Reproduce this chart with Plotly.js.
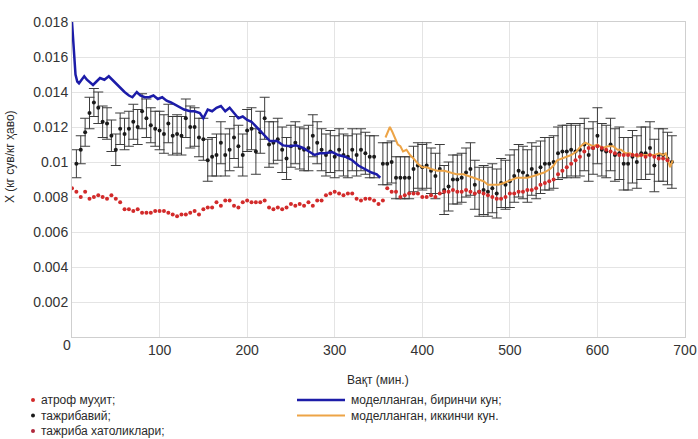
<!DOCTYPE html>
<html>
<head>
<meta charset="utf-8">
<script src="https://cdn.plot.ly/plotly-3.0.1.min.js"></script>
<style>
  html, body { margin: 0; padding: 0; background: #ffffff; }
  #chart { width: 698px; height: 439px; }
</style>
</head>
<body>
<div id="chart"></div>
<script>
// Sampling of the measured series (minutes)
const sampleStep = 5;
const ambientDay1Start = 0;
const ambientDay2Start = 360;
const measuredDay1Start = 5;
const measuredDay2Start = 355;

// Ambient air moisture content, day 1 and day 2 (kg water / kg air)
const ambientDay1 = [
  0.0085,0.0083,0.0080,0.0083,0.0079,0.0080,0.0081,0.0080,0.0079,0.0081,
  0.0079,0.0077,0.0073,0.0073,0.0072,0.0073,0.0071,0.0071,0.0071,0.0072,
  0.0072,0.0072,0.0071,0.0070,0.0069,0.0070,0.0070,0.0071,0.0072,0.0070,
  0.0073,0.0074,0.0074,0.0077,0.0075,0.0078,0.0078,0.0075,0.0074,0.0077,
  0.0078,0.0077,0.0077,0.0077,0.0078,0.0074,0.0073,0.0074,0.0073,0.0074,
  0.0076,0.0075,0.0076,0.0075,0.0077,0.0075,0.0078,0.0078,0.0081,0.0082,
  0.0083,0.0082,0.0081,0.0082,0.0082,0.0079,0.0078,0.0079,0.0079,0.0078,
  0.0076,0.0078
];
const ambientDay2 = [
  0.0085,0.0083,0.0083,0.0080,0.0081,0.0082,0.0082,0.0082,0.0080,0.0080,
  0.0081,0.0080,0.0082,0.0083,0.0083,0.0084,0.0083,0.0083,0.0084,0.0083,
  0.0082,0.0083,0.0082,0.0081,0.0080,0.0079,0.0079,0.0080,0.0082,0.0082,
  0.0083,0.0083,0.0084,0.0084,0.0085,0.0087,0.0088,0.0089,0.0090,0.0093,
  0.0095,0.0097,0.0099,0.0101,0.0103,0.0106,0.0108,0.0108,0.0109,0.0108,
  0.0107,0.0106,0.0105,0.0104,0.0104,0.0104,0.0104,0.0104,0.0104,0.0103,
  0.0104,0.0103,0.0102,0.0102,0.0101
];

// Measured (experimental) moisture content and its error, day 1 and day 2
const measuredDay1 = [
  0.0099,0.0107,0.0117,0.0128,0.0134,0.0131,0.0123,0.0122,0.0115,0.0107,
  0.0119,0.0116,0.0119,0.0123,0.0120,0.0129,0.0125,0.0121,0.0119,0.0118,
  0.0116,0.0122,0.0115,0.0116,0.0115,0.0125,0.0120,0.0120,0.0114,0.0113,
  0.0101,0.0103,0.0104,0.0111,0.0104,0.0107,0.0114,0.0109,0.0104,0.0118,
  0.0119,0.0106,0.0117,0.0125,0.0110,0.0111,0.0113,0.0107,0.0102,0.0109,
  0.0111,0.0108,0.0107,0.0108,0.0115,0.0111,0.0107,0.0104,0.0106,0.0103,
  0.0107,0.0104,0.0103,0.0107,0.0104,0.0107,0.0105,0.0103,0.0103
];
const errorDay1 = [
  0.0008,0.0008,0.0008,0.0009,0.0008,0.0009,0.0009,0.0009,0.0009,0.0009,
  0.0009,0.0009,0.0010,0.0010,0.0010,0.0010,0.0011,0.0010,0.0010,0.0011,
  0.0011,0.0011,0.0011,0.0011,0.0011,0.0011,0.0012,0.0011,0.0011,0.0012,
  0.0012,0.0011,0.0012,0.0012,0.0012,0.0012,0.0012,0.0012,0.0012,0.0012,
  0.0012,0.0013,0.0012,0.0012,0.0013,0.0012,0.0012,0.0013,0.0012,0.0012,
  0.0012,0.0012,0.0012,0.0013,0.0012,0.0012,0.0012,0.0012,0.0012,0.0012,
  0.0012,0.0012,0.0012,0.0012,0.0012,0.0012,0.0012,0.0012,0.0012
];
const measuredDay2 = [
  0.0099,0.0099,0.0100,0.0091,0.0091,0.0091,0.0091,0.0096,0.0098,0.0097,
  0.0098,0.0095,0.0092,0.0096,0.0084,0.0086,0.0090,0.0090,0.0091,0.0094,
  0.0096,0.0087,0.0083,0.0084,0.0083,0.0085,0.0082,0.0088,0.0087,0.0089,
  0.0092,0.0095,0.0094,0.0092,0.0096,0.0094,0.0097,0.0099,0.0099,0.0100,
  0.0105,0.0106,0.0106,0.0107,0.0106,0.0107,0.0110,0.0104,0.0108,0.0115,
  0.0107,0.0106,0.0110,0.0104,0.0105,0.0099,0.0099,0.0103,0.0100,0.0105,
  0.0105,0.0108,0.0098,0.0104,0.0104,0.0102,0.0100
];
const errorDay2 = [
  0.0012,0.0012,0.0012,0.0012,0.0012,0.0012,0.0012,0.0013,0.0013,0.0013,
  0.0013,0.0013,0.0013,0.0014,0.0014,0.0014,0.0014,0.0014,0.0014,0.0014,
  0.0015,0.0014,0.0014,0.0014,0.0014,0.0014,0.0014,0.0014,0.0014,0.0015,
  0.0015,0.0015,0.0015,0.0015,0.0015,0.0015,0.0015,0.0015,0.0015,0.0015,
  0.0015,0.0015,0.0015,0.0015,0.0015,0.0015,0.0015,0.0015,0.0015,0.0016,
  0.0015,0.0015,0.0015,0.0015,0.0015,0.0015,0.0015,0.0015,0.0015,0.0015,
  0.0015,0.0015,0.0015,0.0015,0.0015,0.0015,0.0015
];

// Model, day 1
const modelDay1Time = [0,2,4,6,8,11,14,17,20,24,28,32,37,42,46,50,55,60,65,69,
  74,78,83,88,93,98,103,108,113,120,128,135,140,146,150,155,160,165,170,175,
  180,185,190,195,200,205,211,218,226,234,241,249,256,264,270,277,283,289,297,304,
  312,320,327,335,342,348,352];
const modelDay1 = [0.0180,0.0162,0.0150,0.0146,0.0145,0.0147,0.0149,0.0147,0.01455,0.0144,
  0.0146,0.0148,0.0147,0.0149,0.0147,0.0145,0.0142,0.0140,0.0138,0.0137,
  0.0140,0.0138,0.0137,0.0137,0.0138,0.0136,0.0137,0.0135,0.0134,0.0132,
  0.0130,0.0129,0.0129,0.0128,0.0125,0.0130,0.0129,0.0131,0.0132,0.0129,
  0.0131,0.0128,0.0125,0.0126,0.0124,0.0123,0.0120,0.0116,0.0112,0.0112,
  0.01095,0.0109,0.01095,0.0108,0.0106,0.0104,0.0105,0.0105,0.01057,0.0104,
  0.0103,0.0101,0.0098,0.0096,0.0094,0.0093,0.0091];

// Model, day 2
const modelDay2Time = [358,363,366,369,372,375,378,382,386,390,395,400,405,410,417,
  425,432,439,447,453,459,465,470,475,480,487,493,498,503,508,514,520,527,533,539,
  546,550,554,560,565,570,576,581,586,590,595,600,606,612,618,623,627,632,637,642,
  646,651,656,661,665,671,675,678,683,686];
const modelDay2 = [0.0114,0.0120,0.0117,0.0113,0.0110,0.0109,0.0106,0.0107,0.0104,0.0102,
  0.0099,0.0097,0.0097,0.0096,0.0095,0.0095,0.0094,0.0093,0.0093,0.0092,
  0.0091,0.0090,0.0089,0.0087,0.0087,0.0087,0.0088,0.0089,0.0090,0.0091,
  0.0091,0.0091,0.0092,0.0093,0.0094,0.0096,0.0098,0.0101,0.0102,0.0103,
  0.0104,0.0106,0.0109,0.0111,0.0110,0.0109,0.0110,0.0108,0.0109,0.0109,
  0.0107,0.0107,0.0105,0.0105,0.0104,0.0103,0.0104,0.0104,0.0104,0.0104,
  0.0105,0.0104,0.0105,0.0097,0.0101];

// Axis ticks and labels
const xTicks = [100, 200, 300, 400, 500, 600, 700];
const yTicks = [0.002, 0.004, 0.006, 0.008, 0.01, 0.012, 0.014, 0.016, 0.018];
const xTitle = 'Вақт (мин.)';
const yTitle = 'X (кг сув/кг ҳаво)';
const legendLabels = [
  'атроф муҳит;',
  'тажрибавий;',
  'тажриба хатоликлари;',
  'моделланган, биринчи кун;',
  'моделланган, иккинчи кун.'
];

const RED = '#d22a2a';
const BLUE = '#1c1ca8';
const ORANGE = '#eda446';
const DOT = '#1a1a1a';

const errorStyle = (arr) => ({
  type: 'data', array: arr, visible: true,
  color: '#3c3c3c', thickness: 1, width: 5
});

const traces = [
  {
    x0: measuredDay1Start, dx: sampleStep, y: measuredDay1,
    type: 'scatter', mode: 'markers',
    marker: { color: DOT, size: 4 },
    error_y: errorStyle(errorDay1), showlegend: false
  },
  {
    x0: measuredDay2Start, dx: sampleStep, y: measuredDay2,
    type: 'scatter', mode: 'markers',
    marker: { color: DOT, size: 4 },
    error_y: errorStyle(errorDay2), showlegend: false
  },
  {
    x: modelDay2Time, y: modelDay2, type: 'scatter', mode: 'lines',
    line: { color: ORANGE, width: 2 }, showlegend: false
  },
  {
    x: modelDay1Time, y: modelDay1, type: 'scatter', mode: 'lines',
    line: { color: BLUE, width: 2.5 }, showlegend: false
  },
  {
    x0: ambientDay1Start, dx: sampleStep, y: ambientDay1,
    type: 'scatter', mode: 'markers',
    marker: { color: RED, size: 4 }, showlegend: false
  },
  {
    x0: ambientDay2Start, dx: sampleStep, y: ambientDay2,
    type: 'scatter', mode: 'markers',
    marker: { color: RED, size: 4 }, showlegend: false
  }
];

// Plot area geometry in pixels, used to place the hand-built legend
const L = 72, R = 685, T = 22, B = 337;
const px = (X) => (X - L) / (R - L);
const py = (Y) => (B - Y) / (B - T);

const FONT = 'Liberation Sans, Arial, sans-serif';
const textFont = { family: FONT, size: 12, color: '#2a2a2a' };

const note = (X, Y, text, opts) => Object.assign({
  xref: 'paper', yref: 'paper', x: px(X), y: py(Y), text: text,
  showarrow: false, xanchor: 'left', yanchor: 'middle', borderpad: 0, font: textFont
}, opts || {});

// Legend rows (pixel rows below the plot)
const row1 = 400, row2 = 415.5, row3 = 431;

const annotations = [
  note(67, 345, '0', { xanchor: 'center', font: { family: FONT, size: 14, color: '#333' } }),
  note(10, 157, yTitle, { xanchor: 'center', textangle: -90 }),
  note(378, 380, xTitle, { xanchor: 'center' }),
  note(40, row1, legendLabels[0]),
  note(40, row2, legendLabels[1]),
  note(40, row3, legendLabels[2]),
  note(350, row1, legendLabels[3]),
  note(350, row2, legendLabels[4])
];

const bullet = (Y, color) => ({
  type: 'circle', xref: 'paper', yref: 'paper',
  xsizemode: 'pixel', ysizemode: 'pixel',
  xanchor: px(33), yanchor: py(Y),
  x0: -2, x1: 2, y0: -2, y1: 2,
  fillcolor: color, line: { width: 0 }
});

const shapes = [
  bullet(row1, RED),
  bullet(row2, DOT),
  bullet(row3, '#b0283c'),
  { type: 'line', xref: 'paper', yref: 'paper', x0: px(297), x1: px(345), y0: py(row1), y1: py(row1),
    line: { color: BLUE, width: 2.5 } },
  { type: 'line', xref: 'paper', yref: 'paper', x0: px(297), x1: px(345), y0: py(row2), y1: py(row2),
    line: { color: ORANGE, width: 2 } }
];

const axisCommon = {
  showgrid: true, gridcolor: '#e4e4e4', gridwidth: 1,
  zeroline: false, showline: true, linecolor: '#cfcfcf', linewidth: 1, mirror: true,
  ticks: '', tickfont: { family: FONT, size: 14, color: '#333' }
};

const layout = {
  width: 698, height: 439,
  margin: { l: L, r: 698 - R, t: T, b: 439 - B },
  paper_bgcolor: '#ffffff', plot_bgcolor: '#ffffff',
  showlegend: false,
  xaxis: Object.assign({}, axisCommon, { range: [0, 700], tickvals: xTicks, ticktext: xTicks.map(String) }),
  yaxis: Object.assign({}, axisCommon, { range: [0, 0.018], tickvals: yTicks, ticktext: yTicks.map(String) }),
  annotations: annotations,
  shapes: shapes
};

Plotly.newPlot('chart', traces, layout, { staticPlot: true, displayModeBar: false });
</script>
</body>
</html>
